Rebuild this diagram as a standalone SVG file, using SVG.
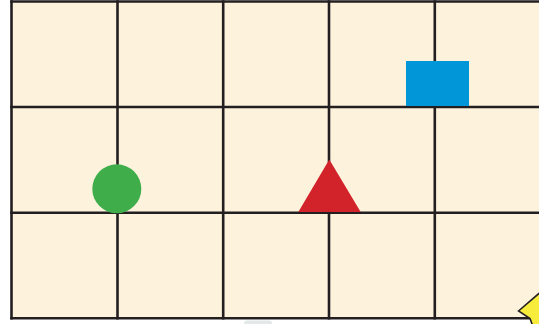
<svg xmlns="http://www.w3.org/2000/svg" width="539" height="324" viewBox="0 0 539 324">
<style>
.bg{fill:#FDF3DD}
.grid line{stroke:#231F20;stroke-width:2.6;stroke-linecap:square}
</style>
<rect width="539" height="324" fill="#FFFFFF"/>
<rect id="smudge" x="244" y="320.5" width="28" height="6" rx="3" fill="#E3E8E8"/>
<rect class="bg" x="11.5" y="1.5" width="540" height="316.8"/>
<g id="grid" class="grid">
<line x1="11.5" y1="1.5" x2="545" y2="1.5"/>
<line x1="11.5" y1="107" x2="545" y2="107"/>
<line x1="11.5" y1="212.8" x2="545" y2="212.8"/>
<line x1="11.5" y1="318.3" x2="545" y2="318.3"/>
<line x1="11.5" y1="1.5" x2="11.5" y2="318.3"/>
<line x1="117.5" y1="1.5" x2="117.5" y2="318.3"/>
<line x1="223.2" y1="1.5" x2="223.2" y2="318.3"/>
<line x1="329" y1="1.5" x2="329" y2="318.3"/>
<line x1="434.8" y1="1.5" x2="434.8" y2="318.3"/>
</g>
<g id="square"><rect x="406" y="61" width="63" height="45" fill="#0096D7"/></g>
<g id="triangle"><polygon points="329.3,159.5 360.7,212 298.3,212" fill="#D2232A"/></g>
<g id="circle"><circle cx="116.8" cy="188.8" r="24.5" fill="#3FAE4A"/></g>
<g id="star"><polygon points="518.5,311 543,290 565,300 565,332 535,332 530,318.5" fill="#F7EC3B" stroke="#231F20" stroke-width="1.6" stroke-linejoin="miter"/></g>
</svg>
